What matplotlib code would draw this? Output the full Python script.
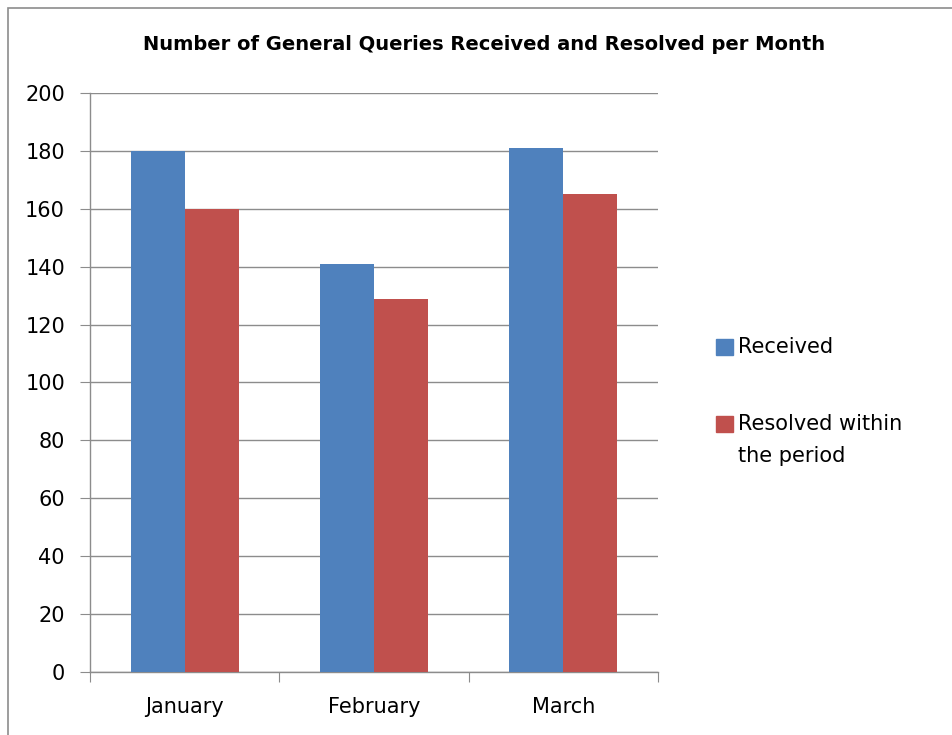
import numpy as np
import matplotlib.pyplot as plt
from matplotlib.patches import Rectangle

# chart data
months   = ["January", "February", "March"]
received = [180, 141, 181]
resolved = [160, 129, 165]
series_labels = ["Received", "Resolved within\nthe period"]

BLUE = "#4F81BD"
RED  = "#C0504D"
GRID = "#8c8c8c"
W, H = 953, 735


def fx(px):
    return px / W


def fy(py):
    return 1 - py / H


def main():
    fig = plt.figure(figsize=(W / 100, H / 100), dpi=100)
    ax = fig.add_axes([0.0944, 0.0857, 0.596, 0.7878])

    # outer chart frame
    fig.patches.append(Rectangle((fx(8), -0.01), 1.0, fy(8) + 0.01,
                                 transform=fig.transFigure, fill=False,
                                 edgecolor=GRID, linewidth=1.2))

    x = np.arange(len(months))
    width = 0.285
    ax.bar(x - width / 2, received, width, color=BLUE, zorder=3)
    ax.bar(x + width / 2, resolved, width, color=RED, zorder=3)

    ax.set_xlim(-0.5, len(months) - 0.5)
    ax.set_ylim(0, 200)
    ax.set_yticks(range(0, 201, 20))
    ax.yaxis.grid(True, color=GRID, linewidth=1.0, zorder=0)
    ax.set_axisbelow(True)

    # category boundaries as tick marks, labels centred
    ax.set_xticks(np.arange(-0.5, len(months), 1.0))
    ax.set_xticklabels([])
    ax.set_xticks(x, minor=True)
    ax.set_xticklabels(months, minor=True, fontsize=15)
    ax.tick_params(axis="x", which="major", direction="out", length=7, color=GRID)
    ax.tick_params(axis="x", which="minor", length=0, pad=18)
    ax.tick_params(axis="y", direction="out", length=7, color=GRID, labelsize=15, pad=11)

    for side in ["top", "right"]:
        ax.spines[side].set_visible(False)
    for side in ["left", "bottom"]:
        ax.spines[side].set_color(GRID)
        ax.spines[side].set_linewidth(1.0)

    fig.text(0.508, fy(45), "Number of General Queries Received and Resolved per Month",
             ha="center", va="center", fontsize=14, fontweight="bold")

    # legend, laid out by hand like the spreadsheet legend
    colors = [BLUE, RED]
    first_line_y = [347, 424]
    for label, color, ly in zip(series_labels, colors, first_line_y):
        fig.patches.append(Rectangle((fx(716), fy(ly + 8)), fx(17), 16 / H,
                                     transform=fig.transFigure, color=color))
        for i, line in enumerate(label.split("\n")):
            fig.text(fx(738), fy(ly + 32 * i), line, ha="left", va="center", fontsize=15)

    fig.savefig("out.png", dpi=100)


if __name__ == "__main__":
    main()
